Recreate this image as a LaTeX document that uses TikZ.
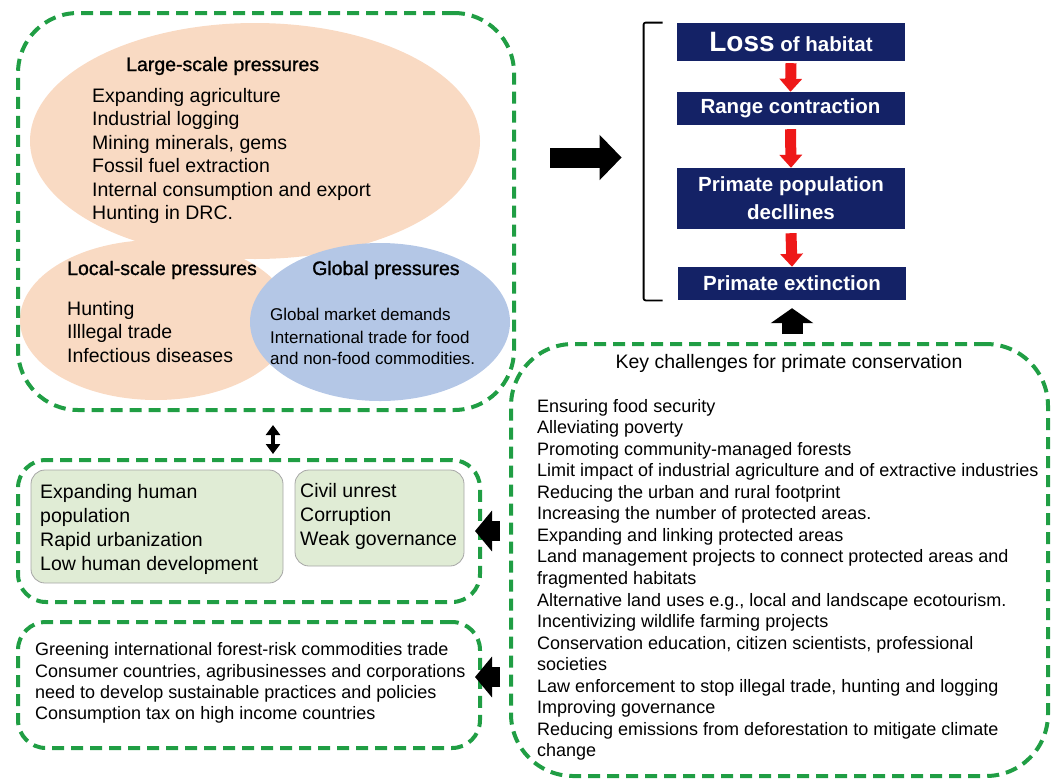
\documentclass[tikz,border=0pt]{standalone}
\usepackage{fontspec}
\setmainfont{Liberation Sans}
\newfontfamily\headfont[FakeBold=1.2]{Liberation Sans}
\usetikzlibrary{arrows.meta,shapes.geometric,fit}
\definecolor{peach}{RGB}{249,218,195}
\definecolor{globalblue}{RGB}{180,199,230}
\definecolor{dashgreen}{RGB}{32,158,68}
\definecolor{boxnavy}{RGB}{20,34,102}
\definecolor{leafgreen}{RGB}{224,236,213}
\definecolor{redtip}{RGB}{238,24,24}
\tikzset{
  dashbox/.style={draw=dashgreen, line width=4pt, dash pattern=on 12pt off 7pt, inner sep=0pt},
  blob/.style={ellipse, inner sep=0pt},
  leafbox/.style={draw=gray!70, fill=leafgreen, rounded corners=14pt, inner sep=0pt, line width=0.8pt},
  navybox/.style={fill=boxnavy, text=white, font=\bfseries\fontsize{20.5}{28}\selectfont, minimum width=228pt, inner sep=0pt, align=center},
  listtext/.style={anchor=base west, inner sep=0pt, font=\fontsize{19.5}{23}\selectfont},
  keytext/.style={anchor=base west, inner sep=0pt, font=\fontsize{18}{21}\selectfont},
  smalltext/.style={anchor=base west, inner sep=0pt, font=\fontsize{17}{20}\selectfont},
  headtext/.style={anchor=base west, inner sep=0pt, font=\headfont\fontsize{19.5}{23}\selectfont},
  redarrow/.style={draw=redtip, line width=11pt, -{Triangle[length=13pt,width=22pt]}},
  fatarrow/.style={line width=20pt, -{Triangle[length=22pt,width=44pt]}},
  uparrow/.style={line width=21pt, -{Triangle[length=15pt,width=42pt]}, shorten <=8pt, shorten >=8pt},
  leftarrow/.style={line width=20pt, -{Triangle[length=17pt,width=40pt]}, shorten <=9pt},
  dblarrow/.style={line width=4pt, {Triangle[length=10pt,width=14pt]}-{Triangle[length=10pt,width=14pt]}, shorten <=13pt, shorten >=4pt}
}
\begin{document}
\begin{tikzpicture}[x=1pt,y=-1pt]
\useasboundingbox (0,0) rectangle (1057,780);
% pressures
\node[blob, fill=peach, minimum width=450pt, minimum height=236pt] (largeE) at (255,141) {};
\node[blob, fill=peach, minimum width=272pt, minimum height=160pt] (localE) at (156,320) {};
\node[blob, fill=globalblue, minimum width=260pt, minimum height=158pt] (globalE) at (380,322) {};
\node[dashbox, rounded corners=60pt, minimum width=496pt, minimum height=397pt] (press) at (266,211.5) {};
\node[headtext] (largeT) at (126,71) {Large-scale pressures};
\foreach \y/\t in {102/Expanding agriculture, 125/Industrial logging, 149/{Mining minerals, gems},
                   172/Fossil fuel extraction, 196/Internal consumption and export, 219/Hunting in DRC.}{
  \node[listtext] (large\y) at (92,\y) {\t};
}
\node[headtext] (localT) at (67,275) {Local-scale pressures};
\node[headtext] (globalT) at (312,275) {Global pressures};
\foreach \y/\t in {315/Hunting, 338/Illlegal trade, 362/Infectious diseases}{
  \node[listtext] (local\y) at (67,\y) {\t};
}
\foreach \y/\t in {320/Global market demands, 343/International trade for food, 364/and non-food commodities.}{
  \node[smalltext] (global\y) at (270,\y) {\t};
}
% chain
\node[navybox, minimum height=38pt] (loss) at (791,42) {{\fontsize{28}{30}\selectfont Loss} of habitat};
\node[navybox, minimum height=33pt] (range) at (790.5,108.5) {Range contraction};
\node[navybox, minimum height=61pt] (decline) at (791,198.5) {Primate population\\decllines};
\node[navybox, minimum height=33pt] (extinct) at (792,283.5) {Primate extinction};
\draw[redarrow] ([yshift=-2pt]loss.south) -- (range.north);
\draw[redarrow] ([yshift=-4pt]range.south) -- (decline.north);
\draw[redarrow] ([yshift=-4pt]decline.south) -- (extinct.north);
\node[fit=(loss)(extinct), inner xsep=33pt, inner ysep=0pt] (chain) {};
\draw[line width=1.8pt, rounded corners=2pt] ([xshift=19pt]chain.north west) -- (chain.north west)
  -- (chain.south west) -- ([xshift=19pt]chain.south west);
\draw[fatarrow] ([xshift=34pt,yshift=4pt]press.east |- chain.west) -- ([xshift=-22pt,yshift=4pt]chain.west);
% challenges
\node[dashbox, rounded corners=62pt, minimum width=537pt, minimum height=432pt] (key) at (779.5,560) {};
\node[anchor=base, inner sep=0pt, font=\fontsize{19.5}{23}\selectfont] (keyT) at (789,368) {Key challenges for primate conservation};
\foreach \t [count=\k from 0] in {Ensuring food security, Alleviating poverty, Promoting community-managed forests,
    Limit impact of industrial agriculture and of extractive industries, Reducing the urban and rural footprint,
    Increasing the number of protected areas., Expanding and linking protected areas,
    Land management projects to connect protected areas and, fragmented habitats,
    {Alternative land uses e.g., local and landscape ecotourism.}, Incentivizing wildlife farming projects,
    {Conservation education, citizen scientists, professional}, societies,
    {Law enforcement to stop illegal trade, hunting and logging}, Improving governance,
    Reducing emissions from deforestation to mitigate climate, change}{
  \node[keytext] (kc\k) at (537,412+21.56*\k) {\t};
}
\draw[uparrow] (extinct.south |- key.north) -- (extinct.south);
% drivers
\node[dashbox, rounded corners=28pt, minimum width=462pt, minimum height=142pt] (social) at (249,531) {};
\node[leafbox, minimum width=252pt, minimum height=113pt] (humanbox) at (157,526.5) {};
\node[leafbox, minimum width=169pt, minimum height=96pt] (govbox) at (379.5,518) {};
\foreach \y/\t in {498/Expanding human, 522/population, 546/Rapid urbanization, 570/Low human development}{
  \node[listtext] (human\y) at (40,\y) {\t};
}
\foreach \y/\t in {497/Civil unrest, 521/Corruption, 545/Weak governance}{
  \node[listtext] (gov\y) at (300,\y) {\t};
}
\node[dashbox, rounded corners=28pt, minimum width=462pt, minimum height=126pt] (trade) at (249,685) {};
\foreach \y/\t in {655/Greening international forest-risk commodities trade,
                   677/{Consumer countries, agribusinesses and corporations},
                   698/need to develop sustainable practices and policies,
                   719/Consumption tax on high income countries}{
  \node[keytext] (trade\y) at (35,\y) {\t};
}
\draw[dblarrow] ([xshift=24pt]social.north |- press.south) -- ([xshift=24pt]social.north);
\draw[leftarrow] (key.west |- social.east) -- ([xshift=-7pt]social.east);
\draw[leftarrow] ([yshift=8pt]key.west |- trade.east) -- ([xshift=-7pt,yshift=8pt]trade.east);
\end{tikzpicture}
\end{document}
